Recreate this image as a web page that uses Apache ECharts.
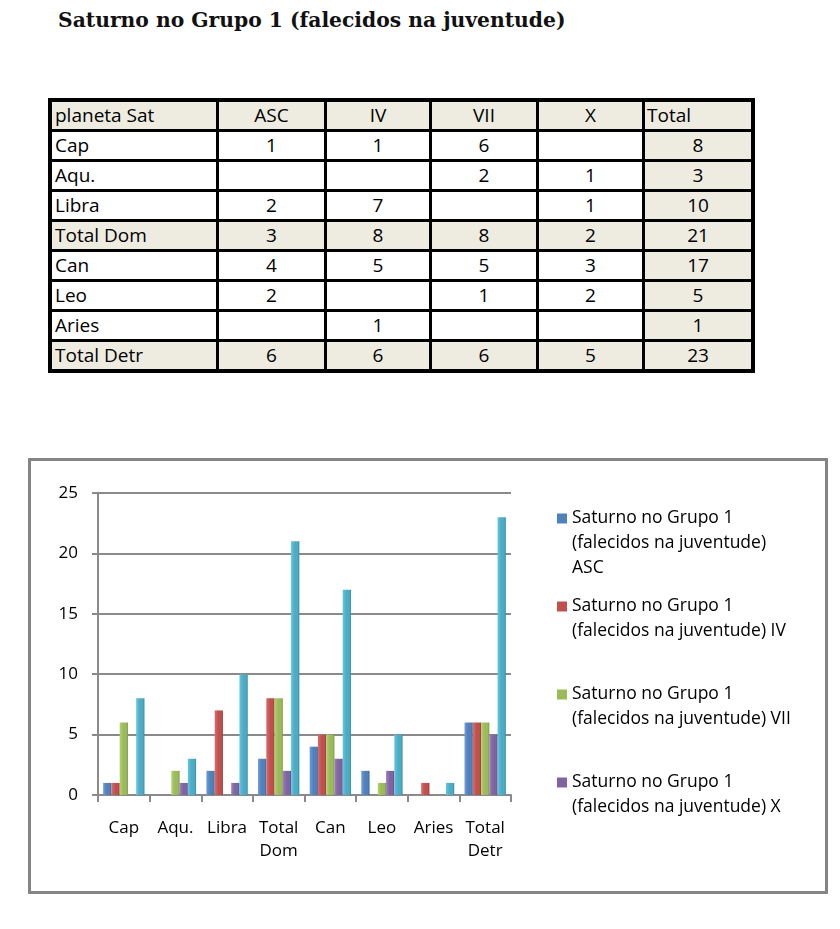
<!DOCTYPE html>
<html>
<head>
<meta charset="utf-8">
<script src="https://cdn.jsdelivr.net/npm/echarts@6/dist/echarts.min.js"></script>
<style>
  html, body { margin: 0; padding: 0; background: #fff; width: 840px; height: 929px; overflow: hidden; }
  #title { position: absolute; left: 58px; top: 8px; font-family: "DejaVu Serif", serif; font-weight: bold; font-size: 20.3px; color: #111; white-space: nowrap; }
  #tbl { position: absolute; left: 48px; top: 98px; border-collapse: collapse; border: 4px solid #000; font-family: "Open Sans", sans-serif; font-size: 19px; color: #000; }
  #tbl td { border: 3px solid #000; height: 27px; padding: 0 4px; line-height: 27px; text-align: center; background: #fff; }
  #tbl td.lab { text-align: left; padding-left: 3px; }
  #tbl tr.sh td, #tbl td.tot { background: #EEECE1; }
  #chart { position: absolute; left: 28px; top: 458px; width: 800px; height: 436px; border: 3px solid #858585; box-sizing: border-box; }
</style>
</head>
<body>
<div id="title"></div>
<table id="tbl"></table>
<div id="chart"></div>
<script>
const titleText = "Saturno no Grupo 1 (falecidos na juventude)";
const tableHeader = ["planeta Sat", "ASC", "IV", "VII", "X", "Total"];
const categories = ["Cap", "Aqu.", "Libra", "Total Dom", "Can", "Leo", "Aries", "Total Detr"];
const ascValues   = [1, null, 2, 3, 4, 2, null, 6];
const ivValues    = [1, null, 7, 8, 5, null, 1, 6];
const viiValues   = [6, 2, null, 8, 5, 1, null, 6];
const xValues     = [null, 1, 1, 2, 3, 2, null, 5];
const totalValues = [8, 3, 10, 21, 17, 5, 1, 23];
const shadedRows = ["Total Dom", "Total Detr"];
const seriesPrefix = "Saturno no Grupo 1 (falecidos na juventude)";
const seriesSuffixes = ["ASC", "IV", "VII", "X", "Total"];
const yTicks = [0, 5, 10, 15, 20, 25];

document.getElementById('title').textContent = titleText;

// table
const colWidths = [168, 108, 105, 107, 106, 109];
const tbl = document.getElementById('tbl');
const allSeries = [ascValues, ivValues, viiValues, xValues, totalValues];
function addRow(cells, shaded) {
  const tr = document.createElement('tr');
  if (shaded) tr.className = 'sh';
  cells.forEach((c, i) => {
    const td = document.createElement('td');
    td.textContent = c;
    td.style.width = (colWidths[i] - 11) + 'px';
    if (i === 0) td.className = 'lab';
    if (i === 5) td.className = 'tot';
    if (i === 5 && shaded === 'header') { td.style.textAlign = 'left'; td.style.paddingLeft = '2px'; }
    tr.appendChild(td);
  });
  tbl.appendChild(tr);
}
addRow(tableHeader, 'header');
categories.forEach((c, r) => {
  addRow([c].concat(allSeries.map(s => s[r] == null ? '' : s[r])), shadedRows.indexOf(c) >= 0);
});

// chart
const colors = ['#4F81BD', '#C0504D', '#9BBB59', '#8064A2', '#4BACC6'];
const lights = ['#6f9bd3', '#d76f6c', '#b3d074', '#9a80bb', '#6cc3db'];
const darks  = ['#3a6496', '#983c3a', '#7a9645', '#634d80', '#36879c'];
function grad(i) {
  return new echarts.graphic.LinearGradient(0, 0, 1, 0, [
    { offset: 0, color: lights[i] },
    { offset: 0.45, color: colors[i] },
    { offset: 0.8, color: colors[i] },
    { offset: 1, color: darks[i] }
  ]);
}
const chart = echarts.init(document.getElementById('chart'), null, { renderer: 'canvas' });
const names = seriesSuffixes.map(s => seriesPrefix + ' ' + s);
const font = '"Open Sans", sans-serif';
chart.setOption({
  animation: false,
  textStyle: { fontFamily: font },
  grid: { left: 67, right: 314, top: 32, bottom: 96 },
  legend: {
    orient: 'vertical',
    left: 526,
    top: 45,
    padding: 0,
    itemGap: 13,
    itemWidth: 10,
    itemHeight: 75,
    icon: 'path://M0,7.5h10v10h-10zM0,0M10,75',
    data: names.slice(0, 4).map((n, i) => ({ name: n, itemStyle: { color: colors[i] } })),
    selectedMode: false,
    textStyle: { fontFamily: font, fontSize: 17.5, lineHeight: 25, color: '#000' },
    formatter: function (name) {
      const suf = name.slice(seriesPrefix.length + 1);
      if (suf === 'ASC') return 'Saturno no Grupo 1\n(falecidos na juventude)\nASC';
      return 'Saturno no Grupo 1\n(falecidos na juventude) ' + suf + '\n ';
    }
  },
  xAxis: {
    type: 'category',
    data: categories,
    axisLine: { lineStyle: { color: '#8a8a8a', width: 2 } },
    axisTick: { show: true, length: 7, lineStyle: { color: '#8a8a8a', width: 2 } },
    axisLabel: {
      color: '#000', fontSize: 17, fontFamily: font, margin: 22, lineHeight: 23,
      interval: 0,
      formatter: v => v.replace(' ', '\n')
    }
  },
  yAxis: {
    type: 'value',
    min: yTicks[0],
    max: yTicks[yTicks.length - 1],
    interval: yTicks[1] - yTicks[0],
    axisLine: { show: true, lineStyle: { color: '#8a8a8a', width: 2 } },
    axisTick: { show: true, length: 6, lineStyle: { color: '#8a8a8a', width: 2 } },
    splitLine: { lineStyle: { color: '#8a8a8a', width: 2 } },
    axisLabel: { color: '#000', fontSize: 17, fontFamily: font, margin: 20 }
  },
  series: allSeries.map((vals, i) => ({
    name: names[i],
    type: 'bar',
    data: vals,
    barGap: '0%',
    barCategoryGap: '20%',
    itemStyle: { color: grad(i) }
  }))
});
</script>
</body>
</html>
